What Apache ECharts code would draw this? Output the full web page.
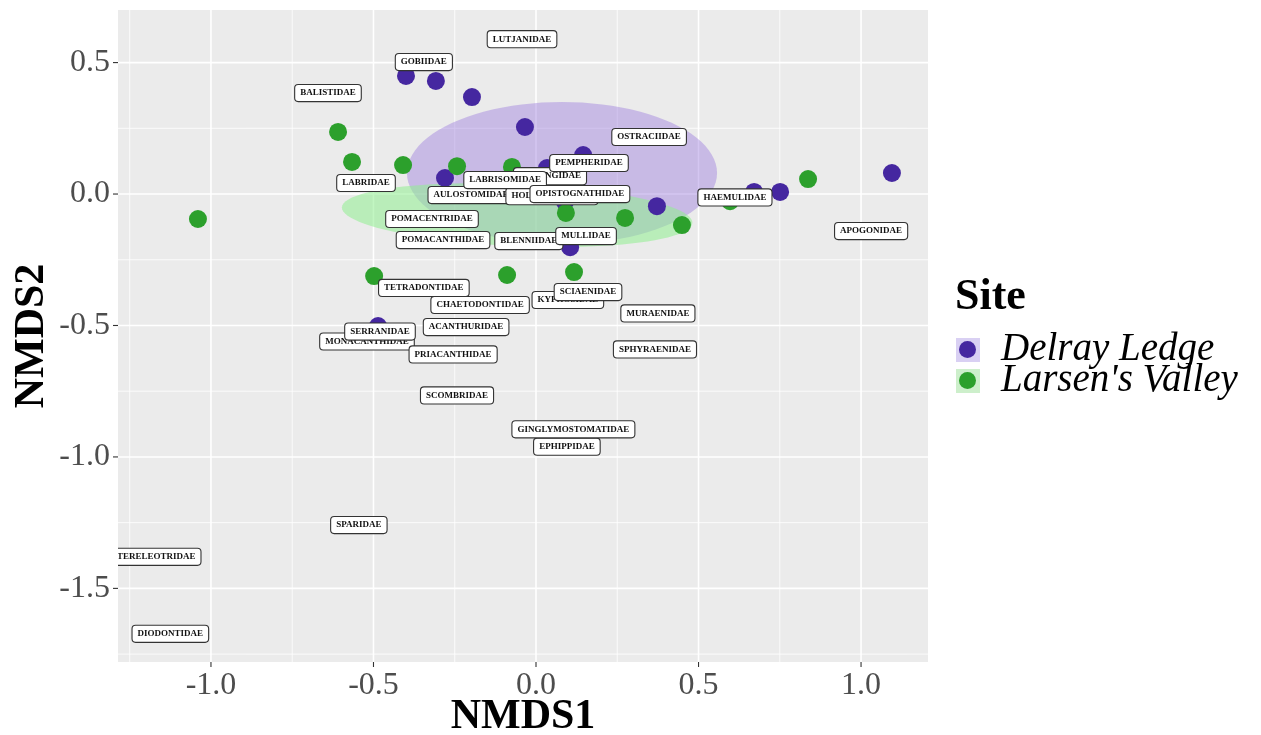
<!DOCTYPE html>
<html><head><meta charset="utf-8">
<script src="https://cdn.jsdelivr.net/npm/echarts@6/dist/echarts.min.js"></script>
<style>html,body{margin:0;padding:0;background:#fff}#c{width:1261px;height:735px}</style>
</head><body><div id="c"></div>
<script>
// ---- data ----
const delrayX = [-0.400, -0.308, -0.197, -0.034, 0.145, 0.034, -0.280, 0.089, 0.372, 0.105, 0.671, 0.751, 1.095, -0.486];
const delrayY = [0.449, 0.430, 0.369, 0.255, 0.148, 0.099, 0.061, -0.030, -0.046, -0.202, 0.008, 0.008, 0.080, -0.502];
const larsenX = [-1.040, -0.609, -0.566, -0.409, -0.243, -0.074, 0.092, 0.274, 0.449, 0.597, 0.837, -0.498, -0.089, 0.117];
const larsenY = [-0.095, 0.236, 0.122, 0.110, 0.106, 0.103, -0.072, -0.091, -0.118, -0.027, 0.057, -0.312, -0.308, -0.297];

const familyNames = ['ACANTHURIDAE','APOGONIDAE','AULOSTOMIDAE','BALISTIDAE','BLENNIIDAE','CARANGIDAE','CHAETODONTIDAE','DIODONTIDAE','EPHIPPIDAE','GINGLYMOSTOMATIDAE','GOBIIDAE','HAEMULIDAE','HOLOCENTRIDAE','KYPHOSIDAE','LABRIDAE','LABRISOMIDAE','LUTJANIDAE','MONACANTHIDAE','MULLIDAE','MURAENIDAE','OPISTOGNATHIDAE','OSTRACIIDAE','PEMPHERIDAE','POMACANTHIDAE','POMACENTRIDAE','PRIACANTHIDAE','PTERELEOTRIDAE','SCIAENIDAE','SCOMBRIDAE','SERRANIDAE','SPARIDAE','SPHYRAENIDAE','TETRADONTIDAE'];
const familyX = [-0.215, 1.031, -0.200, -0.640, -0.022, 0.043, -0.172, -1.125, 0.095, 0.115, -0.345, 0.612, 0.049, 0.098, -0.523, -0.095, -0.043, -0.520, 0.154, 0.375, 0.135, 0.348, 0.163, -0.286, -0.320, -0.255, -1.177, 0.160, -0.243, -0.480, -0.545, 0.366, -0.345];
const familyY = [-0.506, -0.141, -0.004, 0.384, -0.179, 0.068, -0.422, -1.673, -0.961, -0.895, 0.502, -0.013, -0.008, -0.403, 0.042, 0.053, 0.589, -0.561, -0.160, -0.454, 0.000, 0.217, 0.118, -0.175, -0.095, -0.610, -1.380, -0.373, -0.766, -0.523, -1.259, -0.591, -0.357];

const ellipseSites = ['Delray Ledge', "Larsen's Valley"];
const ellipseCX = [0.080, -0.058];
const ellipseCY = [0.080, -0.080];
const ellipseA = [0.477, 0.540];
const ellipseB = [0.270, 0.118];
const ellipseAngle = [0, -3.2];

const xTicks = [-1.0, -0.5, 0.0, 0.5, 1.0];
const xTickLabels = ['-1.0', '-0.5', '0.0', '0.5', '1.0'];
const yTicks = [0.5, 0.0, -0.5, -1.0, -1.5];
const yTickLabels = ['0.5', '0.0', '-0.5', '-1.0', '-1.5'];
const xMinor = [-1.25, -0.75, -0.25, 0.25, 0.75];
const yMinor = [0.25, -0.25, -0.75, -1.25, -1.75];

// ---- layout / style ----
const X_MIN = -1.286, X_MAX = 1.206, Y_MIN = -1.78, Y_MAX = 0.70;
const FONT = '"Liberation Serif","Times New Roman",serif';
const PURPLE = '#4527A0', GREEN = '#2CA02C';
const ELLIPSE_FILL = ['rgba(147,112,219,0.4)', 'rgba(144,238,144,0.55)'];
const TICK_FONT = '32px ' + FONT;

function vLines(lw, withLabel) {
  return function (params, api) {
    const v = api.value(0);
    const t = api.coord([v, Y_MAX]), b = api.coord([v, Y_MIN]);
    const ch = [{type: 'line', shape: {x1: t[0], y1: t[1], x2: b[0], y2: b[1]}, style: {stroke: '#fff', lineWidth: lw}}];
    if (withLabel) {
      ch.push({type: 'line', shape: {x1: b[0], y1: b[1], x2: b[0], y2: b[1] + 5}, style: {stroke: '#333', lineWidth: 1.1}});
      ch.push({type: 'text', x: b[0], y: b[1] + 8, style: {text: xTickLabels[params.dataIndex], font: TICK_FONT, fill: '#4D4D4D', align: 'center', verticalAlign: 'top'}});
    }
    return {type: 'group', children: ch};
  };
}
function hLines(lw, withLabel) {
  return function (params, api) {
    const v = api.value(1);
    const l = api.coord([X_MIN, v]), r = api.coord([X_MAX, v]);
    const ch = [{type: 'line', shape: {x1: l[0], y1: l[1], x2: r[0], y2: r[1]}, style: {stroke: '#fff', lineWidth: lw}}];
    if (withLabel) {
      ch.push({type: 'line', shape: {x1: l[0] - 5, y1: l[1], x2: l[0], y2: l[1]}, style: {stroke: '#333', lineWidth: 1.1}});
      ch.push({type: 'text', x: l[0] - 8, y: l[1], style: {text: yTickLabels[params.dataIndex], font: TICK_FONT, fill: '#4D4D4D', align: 'right', verticalAlign: 'middle'}});
    }
    return {type: 'group', children: ch};
  };
}

const legendBase = {
  orient: 'vertical', left: 959, padding: 0, itemGap: 0,
  icon: 'circle', itemWidth: 17, itemHeight: 17, selectedMode: false,
  textStyle: {fontFamily: FONT, fontStyle: 'italic', fontSize: 39, color: '#000', padding: [0, 0, 0, 20]}
};

const chart = echarts.init(document.getElementById('c'), null, {renderer: 'canvas'});
const option = {
  animation: false,
  grid: {left: 118, top: 10, width: 810, height: 652, show: true, backgroundColor: '#EBEBEB', borderWidth: 0},
  xAxis: {type: 'value', min: X_MIN, max: X_MAX, axisLine: {show: false}, axisTick: {show: false}, axisLabel: {show: false}, splitLine: {show: false}},
  yAxis: {type: 'value', min: Y_MIN, max: Y_MAX, axisLine: {show: false}, axisTick: {show: false}, axisLabel: {show: false}, splitLine: {show: false}},
  legend: [
    Object.assign({}, legendBase, {data: [ellipseSites[0]], top: 330}),
    Object.assign({}, legendBase, {data: [ellipseSites[1]], top: 361})
  ],
  graphic: [
    {type: 'rect', z: -1, shape: {x: 956, y: 338, width: 24, height: 24}, style: {fill: '#D9D0F3'}},
    {type: 'rect', z: -1, shape: {x: 956, y: 369, width: 24, height: 24}, style: {fill: '#CDEFCB'}},
    {type: 'text', x: 955, y: 298, style: {text: 'Site', font: 'bold 44px ' + FONT, fill: '#000', align: 'left', verticalAlign: 'middle'}},
    {type: 'text', x: 523, y: 717, style: {text: 'NMDS1', font: 'bold 42px ' + FONT, fill: '#000', align: 'center', verticalAlign: 'middle'}},
    {type: 'text', x: 32, y: 336, rotation: Math.PI / 2, style: {text: 'NMDS2', font: 'bold 42px ' + FONT, fill: '#000', align: 'center', verticalAlign: 'middle'}}
  ],
  series: [
    {type: 'custom', name: 'xminor', z: 1, silent: true, data: xMinor.map(v => [v, 0]), encode: {x: 0, y: 1}, renderItem: vLines(0.8, false)},
    {type: 'custom', name: 'yminor', z: 1, silent: true, data: yMinor.map(v => [0, v]), encode: {x: 0, y: 1}, renderItem: hLines(0.8, false)},
    {type: 'custom', name: 'xmajor', z: 1, silent: true, data: xTicks.map(v => [v, 0]), encode: {x: 0, y: 1}, renderItem: vLines(1.6, true)},
    {type: 'custom', name: 'ymajor', z: 1, silent: true, data: yTicks.map(v => [0, v]), encode: {x: 0, y: 1}, renderItem: hLines(1.6, true)},
    {
      type: 'custom', name: 'ellipses', z: 2, silent: true,
      data: ellipseSites.map((s, i) => [ellipseCX[i], ellipseCY[i], ellipseA[i], ellipseB[i], ellipseAngle[i]]),
      encode: {x: 0, y: 1},
      renderItem: function (params, api) {
        const cx = api.value(0), cy = api.value(1), a = api.value(2), b = api.value(3);
        const th = api.value(4) * Math.PI / 180;
        const pts = [];
        for (let k = 0; k < 96; k++) {
          const t = k / 96 * Math.PI * 2;
          const x = cx + a * Math.cos(t) * Math.cos(th) - b * Math.sin(t) * Math.sin(th);
          const y = cy + a * Math.cos(t) * Math.sin(th) + b * Math.sin(t) * Math.cos(th);
          pts.push(api.coord([x, y]));
        }
        return {type: 'polygon', shape: {points: pts}, style: {fill: ELLIPSE_FILL[params.dataIndex], stroke: null}};
      }
    },
    {type: 'scatter', name: 'Delray Ledge', z: 3, symbolSize: 18, itemStyle: {color: PURPLE, opacity: 1}, silent: true,
      data: delrayX.map((x, i) => [x, delrayY[i]])},
    {type: 'scatter', name: "Larsen's Valley", z: 3, symbolSize: 18, itemStyle: {color: GREEN, opacity: 1}, silent: true,
      data: larsenX.map((x, i) => [x, larsenY[i]])},
    {
      type: 'custom', name: 'families', z: 5, silent: true, clip: true,
      data: familyNames.map((n, i) => [familyX[i], familyY[i]]),
      encode: {x: 0, y: 1},
      renderItem: function (params, api) {
        const p = api.coord([api.value(0), api.value(1)]);
        return {type: 'text', x: p[0], y: p[1], style: {
          text: familyNames[params.dataIndex], font: 'bold 9px ' + FONT, fill: '#111',
          align: 'center', verticalAlign: 'middle', backgroundColor: '#fff', borderColor: '#333',
          borderWidth: 1.1, borderRadius: 3, padding: [4, 5, 3, 5]
        }};
      }
    }
  ]
};
chart.setOption(option);
</script>
</body></html>
